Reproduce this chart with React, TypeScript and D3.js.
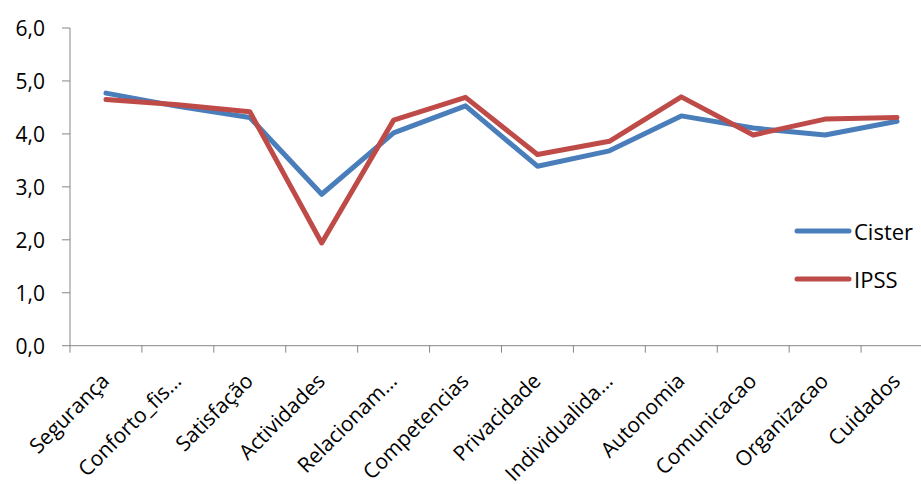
import React from "react";
import * as d3 from "d3";

const categories = [
  "Segurança", "Conforto_fis…", "Satisfação", "Actividades", "Relacionam…", "Competencias",
  "Privacidade", "Individualida…", "Autonomia", "Comunicacao", "Organizacao", "Cuidados",
];
const cister = [4.77, 4.52, 4.31, 2.86, 4.02, 4.53, 3.39, 3.68, 4.34, 4.11, 3.98, 4.24];
const ipss = [4.65, 4.55, 4.42, 1.94, 4.26, 4.69, 3.61, 3.86, 4.70, 3.98, 4.28, 4.31];
const yTicks = [0, 1, 2, 3, 4, 5, 6];

const series = [
  { name: "Cister", values: cister, color: "#4A7EBB" },
  { name: "IPSS", values: ipss, color: "#BE4B48" },
];

const W = 921;
const H = 484;
const left = 70;
const plotRight = 933;
const top = 28;
const bottom = 345.7;
const axisColor = "#868686";
const font = "'Open Sans', sans-serif";

export default function App() {
  const x = d3.scaleBand<string>().domain(categories).range([left, plotRight]);
  const y = d3.scaleLinear().domain([0, 6]).range([bottom, top]);
  const cx = (c: string) => (x(c) ?? 0) + x.bandwidth() / 2;
  const line = d3
    .line<number>()
    .x((_, i) => cx(categories[i]))
    .y((v) => y(v));

  const bandEdges = categories.map((c) => x(c) ?? 0).concat([plotRight]);

  return (
    <svg width={W} height={H} style={{ position: "absolute", left: 0, top: 0 }}>
      <rect width={W} height={H} fill="#fff" />
      {/* value axis */}
      <line x1={left} x2={left} y1={top} y2={bottom} stroke={axisColor} strokeWidth={1} />
      {yTicks.map((t) => (
        <g key={t}>
          <line x1={left - 8} x2={left} y1={y(t)} y2={y(t)} stroke={axisColor} />
          <text
            x={45}
            y={y(t)}
            textAnchor="end"
            dominantBaseline="central"
            fontFamily={font}
            fontSize={21}
            fill="#000"
          >
            {d3.format(".1f")(t).replace(".", ",")}
          </text>
        </g>
      ))}
      {/* category axis */}
      <line x1={left} x2={plotRight} y1={bottom} y2={bottom} stroke={axisColor} />
      {bandEdges.map((e, i) => (
        <line key={i} x1={e} x2={e} y1={bottom} y2={bottom + 7} stroke={axisColor} />
      ))}
      {categories.map((c) => (
        <text
          key={c}
          transform={`translate(${cx(c) - 1},${bottom + 31}) rotate(-45)`}
          textAnchor="end"
          dominantBaseline="central"
          fontFamily={font}
          fontSize={21}
          fill="#000"
        >
          {c}
        </text>
      ))}
      {/* series */}
      {series.map((s) => (
        <path
          key={s.name}
          d={line(s.values) ?? ""}
          fill="none"
          stroke={s.color}
          strokeWidth={5}
          strokeLinejoin="round"
          strokeLinecap="round"
        />
      ))}
      {/* legend */}
      {series.map((s, i) => (
        <g key={s.name} transform={`translate(0,${231 + i * 48})`}>
          <line x1={797} x2={849} y1={0} y2={0} stroke={s.color} strokeWidth={5} strokeLinecap="round" />
          <text x={854} y={0} dominantBaseline="central" fontFamily={font} fontSize={22} fill="#000">
            {s.name}
          </text>
        </g>
      ))}
    </svg>
  );
}
